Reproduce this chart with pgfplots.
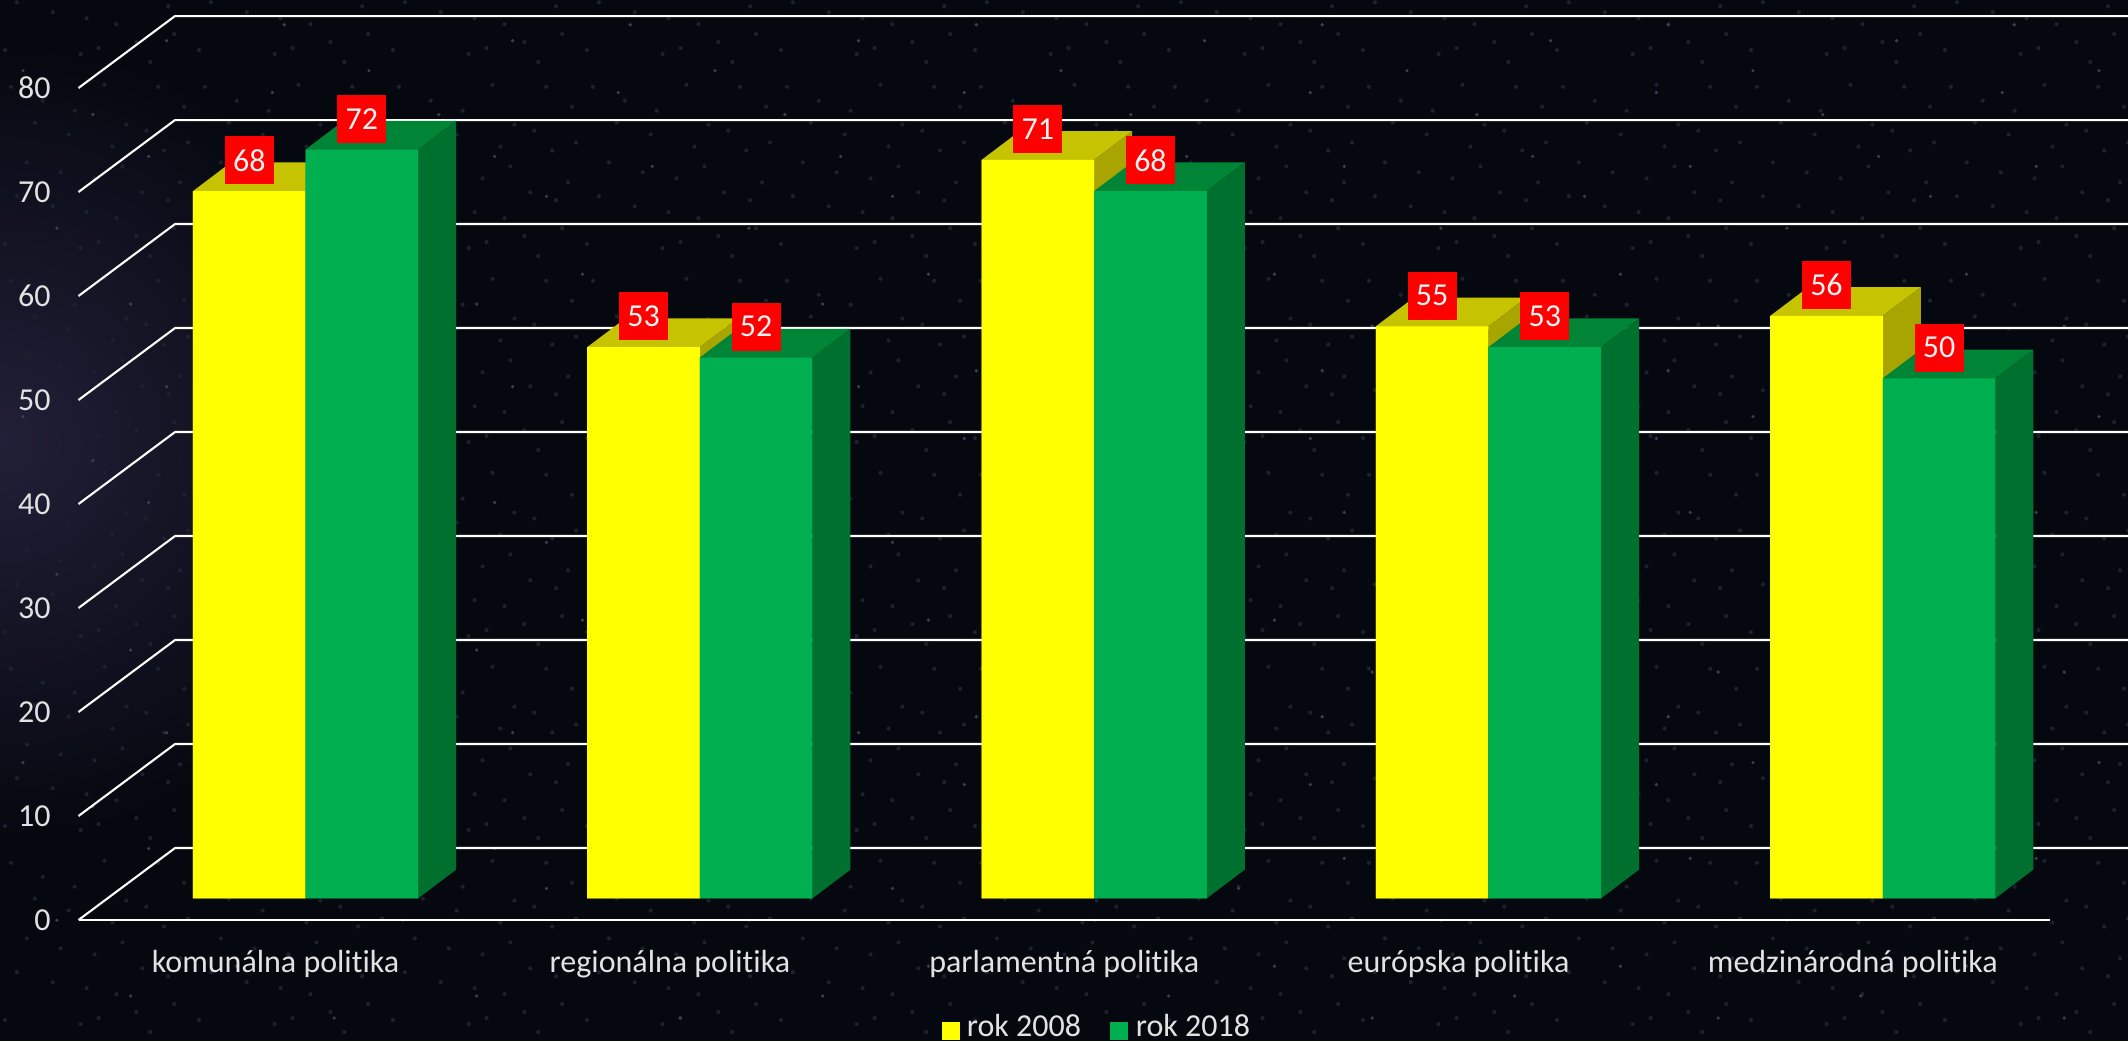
\documentclass[border=0pt]{standalone}
\usepackage{pgfplots}
\usepackage{pgfplotstable}
\usepackage{fontspec}
\usetikzlibrary{patterns}
\setmainfont{Carlito}[RawFeature={-liga;-clig;-dlig;-calt}]
\pgfplotsset{compat=1.18}
\definecolor{bgA}{HTML}{05080F}
\definecolor{glow}{HTML}{221F38}
\definecolor{speckA}{HTML}{1C2130}
\definecolor{speckB}{HTML}{3A4050}
\definecolor{lab}{HTML}{E2E2E2}
\definecolor{yel}{HTML}{FFFF00}
\definecolor{yelT}{HTML}{C6C400}
\definecolor{yelS}{HTML}{A8A400}
\definecolor{grn}{HTML}{00B050}
\definecolor{grnT}{HTML}{008436}
\definecolor{grnS}{HTML}{00702E}
\pgfdeclarepatternformonly{specksA}{\pgfqpoint{0pt}{0pt}}{\pgfqpoint{97pt}{97pt}}{\pgfqpoint{97pt}{97pt}}{%
  \foreach \a/\b in {3/11,14/52,22/83,27/30,35/66,41/9,48/44,53/91,59/24,64/71,72/37,76/5,83/58,88/19,93/80,
    9/35,18/72,31/47,44/27,57/60,69/15,80/90,91/42,6/90,38/78,50/12,62/50,74/68,85/33,95/62}{%
    \pgfpathcircle{\pgfqpoint{\a pt}{\b pt}}{1.05pt}}%
  \pgfusepath{fill}}
\pgfdeclarepatternformonly{specksB}{\pgfqpoint{0pt}{0pt}}{\pgfqpoint{173pt}{173pt}}{\pgfqpoint{173pt}{173pt}}{%
  \foreach \a/\b in {12/140,29/61,47/118,66/23,84/155,101/77,119/38,137/129,154/92,168/12,75/97,143/163}{%
    \pgfpathcircle{\pgfqpoint{\a pt}{\b pt}}{0.9pt}}%
  \pgfusepath{fill}}
\pgfplotstableread{
i y2008 y2018
0 68 72
1 53 52
2 71 68
3 55 53
4 56 50
}\survey
\pgfplotsset{
  wall/.style={draw=white,line width=1.05pt,forget plot,line join=miter},
  box/.style={fill=#1,draw=none,forget plot},
  lbl/.style={
    nodes near coords,
    every node near coord/.append style={fill=red,text=white!95!black,inner sep=0pt,
      minimum width=24.5pt,minimum height=24pt,anchor=center,yshift=15.4pt,xshift=#1,
      font=\fontsize{16}{17}\selectfont}},
}
\begin{document}
\begin{tikzpicture}
\clip (0,0) rectangle (1064pt,520.5pt);
\fill[bgA] (0,0) rectangle (1064pt,520.5pt);
\shade[inner color=glow,outer color=bgA] (0pt,300pt) circle (200pt);
\fill[pattern=specksA,pattern color=speckA] (0,0) rectangle (1064pt,520.5pt);
\fill[pattern=specksB,pattern color=speckB] (0,0) rectangle (1064pt,520.5pt);
\begin{axis}[
  at={(39.25pt,60.5pt)},anchor=south west,scale only axis,
  width=985.75pt,height=416pt,
  xmin=-0.5,xmax=4.5,ymin=0,ymax=80,clip=false,
  axis lines=left,axis line style={draw=none},
  major tick length=0pt,
  xtick={0,1,2,3,4},
  xticklabels={komunálna politika,regionálna politika,parlamentná politika,európska politika,medzinárodná politika},
  ytick={0,10,...,80},
  /pgf/number format/assume math mode=true,
  tick label style={text=lab,font=\fontsize{16}{17}\selectfont},
  yticklabel style={xshift=-10.4pt},
  xticklabel style={yshift=-11.5pt},
]
\addplot[wall] coordinates {(-0.5,0) (4.5,0)};
\addplot[wall] coordinates {(-0.5,0) (-0.2553,6.92) (4.7,6.92)};
\addplot[wall] coordinates {(-0.5,10) (-0.2553,16.92) (4.7,16.92)};
\addplot[wall] coordinates {(-0.5,20) (-0.2553,26.92) (4.7,26.92)};
\addplot[wall] coordinates {(-0.5,30) (-0.2553,36.92) (4.7,36.92)};
\addplot[wall] coordinates {(-0.5,40) (-0.2553,46.92) (4.7,46.92)};
\addplot[wall] coordinates {(-0.5,50) (-0.2553,56.92) (4.7,56.92)};
\addplot[wall] coordinates {(-0.5,60) (-0.2553,66.92) (4.7,66.92)};
\addplot[wall] coordinates {(-0.5,70) (-0.2553,76.92) (4.7,76.92)};
\addplot[wall] coordinates {(-0.5,80) (-0.2553,86.92) (4.7,86.92)};
\end{axis}
\begin{axis}[
  at={(54.2pt,71.35pt)},anchor=south west,scale only axis,
  width=985.75pt,height=416pt,
  xmin=-0.5,xmax=4.5,ymin=0,ymax=80,clip=false,
  axis lines=none,
  /pgf/number format/assume math mode=true,
  legend style={at={(0.5027,-0.1550)},anchor=center,draw=none,fill=none,
    legend columns=2,text=lab,font=\fontsize{16}{17}\selectfont,
    nodes={inner xsep=3.7pt,inner ysep=0pt},
    /tikz/every even column/.style={column sep=11pt},inner sep=0pt},
]
% yellow: top and side faces
\addplot[box=yelT] coordinates {(-0.2856,68) (-0.1892,70.76) (0.0964,70.76) (0,68)} \closedcycle;
\addplot[box=yelS] coordinates {(0,0) (0.0964,2.76) (0.0964,70.76) (0,68)} \closedcycle;
\addplot[box=yelT] coordinates {(0.7144,53) (0.8108,55.76) (1.0964,55.76) (1,53)} \closedcycle;
\addplot[box=yelS] coordinates {(1,0) (1.0964,2.76) (1.0964,55.76) (1,53)} \closedcycle;
\addplot[box=yelT] coordinates {(1.7144,71) (1.8108,73.76) (2.0964,73.76) (2,71)} \closedcycle;
\addplot[box=yelS] coordinates {(2,0) (2.0964,2.76) (2.0964,73.76) (2,71)} \closedcycle;
\addplot[box=yelT] coordinates {(2.7144,55) (2.8108,57.76) (3.0964,57.76) (3,55)} \closedcycle;
\addplot[box=yelS] coordinates {(3,0) (3.0964,2.76) (3.0964,57.76) (3,55)} \closedcycle;
\addplot[box=yelT] coordinates {(3.7144,56) (3.8108,58.76) (4.0964,58.76) (4,56)} \closedcycle;
\addplot[box=yelS] coordinates {(4,0) (4.0964,2.76) (4.0964,58.76) (4,56)} \closedcycle;
% yellow: front
\addplot[ybar,bar width=0.2856,bar shift=-0.1428,fill=yel,draw=none,lbl=-28.15pt,
  legend image code/.code={\fill[yel] (-1.35pt,-6.25pt) rectangle (7.65pt,2.75pt);}]
  table[x=i,y=y2008] {\survey};
\addlegendentry{rok 2008}
% green: top and side faces
\addplot[box=grnT] coordinates {(0,72) (0.0964,74.76) (0.382,74.76) (0.2856,72)} \closedcycle;
\addplot[box=grnS] coordinates {(0.2856,0) (0.382,2.76) (0.382,74.76) (0.2856,72)} \closedcycle;
\addplot[box=grnT] coordinates {(1,52) (1.0964,54.76) (1.382,54.76) (1.2856,52)} \closedcycle;
\addplot[box=grnS] coordinates {(1.2856,0) (1.382,2.76) (1.382,54.76) (1.2856,52)} \closedcycle;
\addplot[box=grnT] coordinates {(2,68) (2.0964,70.76) (2.382,70.76) (2.2856,68)} \closedcycle;
\addplot[box=grnS] coordinates {(2.2856,0) (2.382,2.76) (2.382,70.76) (2.2856,68)} \closedcycle;
\addplot[box=grnT] coordinates {(3,53) (3.0964,55.76) (3.382,55.76) (3.2856,53)} \closedcycle;
\addplot[box=grnS] coordinates {(3.2856,0) (3.382,2.76) (3.382,55.76) (3.2856,53)} \closedcycle;
\addplot[box=grnT] coordinates {(4,50) (4.0964,52.76) (4.382,52.76) (4.2856,50)} \closedcycle;
\addplot[box=grnS] coordinates {(4.2856,0) (4.382,2.76) (4.382,52.76) (4.2856,50)} \closedcycle;
% green: front
\addplot[ybar,bar width=0.2856,bar shift=0.1428,fill=grn,draw=none,lbl=28.15pt,
  legend image code/.code={\fill[grn] (-1.35pt,-6.25pt) rectangle (7.65pt,2.75pt);}]
  table[x=i,y=y2018] {\survey};
\addlegendentry{rok 2018}
\end{axis}
\end{tikzpicture}
\end{document}
